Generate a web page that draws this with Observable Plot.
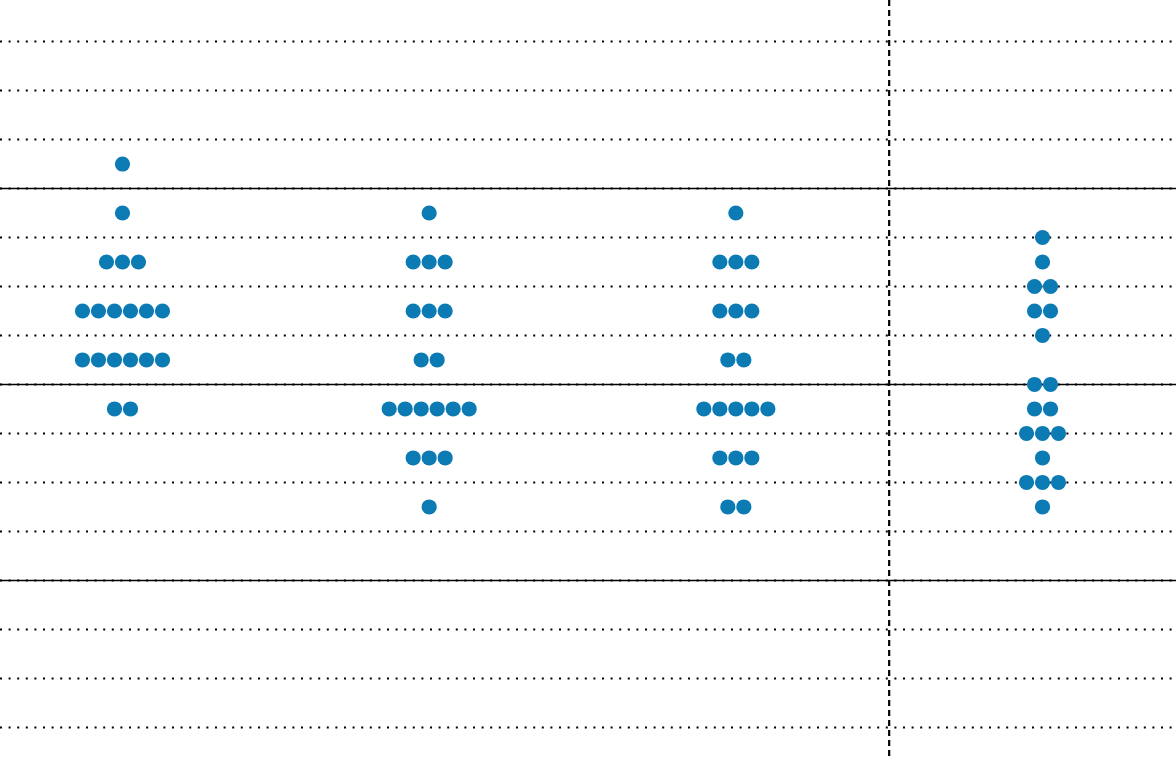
<!DOCTYPE html>
<html>
<head>
<meta charset="utf-8">
<script src="https://cdn.jsdelivr.net/npm/d3@7"></script>
<script src="https://cdn.jsdelivr.net/npm/@observablehq/plot@0.6"></script>
<style>
  html, body { margin: 0; padding: 0; background: #fff; overflow: hidden; }
  #chart svg { display: block; }
</style>
</head>
<body>
<div id="chart"></div>
<script>
// Column positions (category index) and the separator between groups
const columns = [0, 1, 2, 3];
const separatorAt = 2.5;

// Row values and dot counts per column
const col1Values = [1.125, 0.875, 0.625, 0.375, 0.125, -0.125];
const col1Counts = [1, 1, 3, 6, 6, 2];
const col2Values = [0.875, 0.625, 0.375, 0.125, -0.125, -0.375, -0.625];
const col2Counts = [1, 3, 3, 2, 6, 3, 1];
const col3Values = [0.875, 0.625, 0.375, 0.125, -0.125, -0.375, -0.625];
const col3Counts = [1, 3, 3, 2, 5, 3, 2];
const col4Values = [0.75, 0.625, 0.5, 0.375, 0.25, 0, -0.125, -0.25, -0.375, -0.5, -0.625];
const col4Counts = [1, 1, 2, 2, 1, 2, 2, 3, 1, 3, 1];

// Gridlines
const gridDotted = d3.range(-1.75, 1.7501, 0.25);
const gridSolid = [-1, 0, 1];

const colValues = [col1Values, col2Values, col3Values, col4Values];
const colCounts = [col1Counts, col2Counts, col3Counts, col4Counts];

const W = 1176, H = 760;
const xDomain = [-0.3978, 3.4369];
const yDomain = [-1.9184, 1.9592];
const dotStep = 16 * (xDomain[1] - xDomain[0]) / W; // one dot width in x units

const dots = [];
columns.forEach((c, ci) => {
  colValues[ci].forEach((v, ri) => {
    const n = colCounts[ci][ri];
    for (let k = 0; k < n; k++) {
      dots.push({x: c + (k - (n - 1) / 2) * dotStep, y: v});
    }
  });
});

const chart = Plot.plot({
  width: W,
  height: H,
  margin: 0,
  x: {domain: xDomain, axis: null},
  y: {domain: yDomain, axis: null},
  marks: [
    Plot.ruleY(gridSolid, {stroke: "#000", strokeWidth: 1.3}),
    Plot.ruleY(gridDotted, {stroke: "#000", strokeWidth: 2, strokeDasharray: "2,6.6"}),
    Plot.ruleX([separatorAt], {stroke: "#000", strokeWidth: 2.2, strokeDasharray: "6,4"}),
    Plot.dot(dots, {x: "x", y: "y", r: 7.6, fill: "#0C7BB3", stroke: "none"})
  ]
});
document.getElementById("chart").appendChild(chart);
</script>
</body>
</html>
